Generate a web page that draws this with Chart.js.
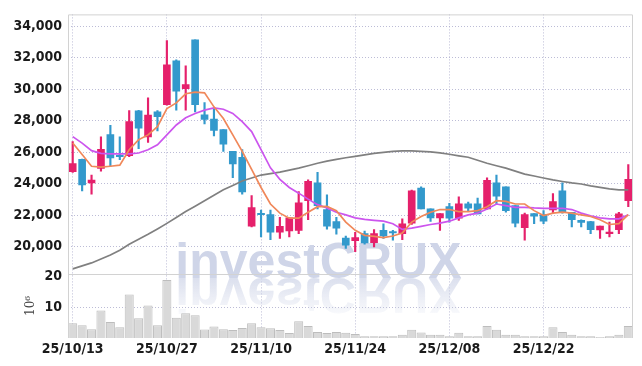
<!DOCTYPE html>
<html lang="en">
<head>
<meta charset="UTF-8">
<title>Candle chart</title>
<script src="https://cdn.jsdelivr.net/npm/chart.js"></script>
<style>
  html, body { margin: 0; padding: 0; background: #fff; }
  #wrap { width: 642px; height: 366px; position: relative; }
</style>
</head>
<body>
<div id="wrap"><canvas id="chart" width="642" height="366"></canvas></div>
<script>
// trading days (yy/mm/dd)
const dates = [
  '25/10/13','25/10/14','25/10/15','25/10/16','25/10/17','25/10/20','25/10/21','25/10/22','25/10/23','25/10/24',
  '25/10/27','25/10/28','25/10/29','25/10/30','25/10/31','25/11/03','25/11/04','25/11/05','25/11/06','25/11/07',
  '25/11/10','25/11/11','25/11/12','25/11/13','25/11/14','25/11/17','25/11/18','25/11/19','25/11/20','25/11/21',
  '25/11/24','25/11/25','25/11/26','25/11/27','25/11/28','25/12/01','25/12/02','25/12/03','25/12/04','25/12/05',
  '25/12/08','25/12/09','25/12/10','25/12/11','25/12/12','25/12/15','25/12/16','25/12/17','25/12/18','25/12/19',
  '25/12/22','25/12/23','25/12/24','25/12/26','25/12/29','25/12/30','26/01/02','26/01/05','26/01/06','26/01/07'
];

const opens = [
  24750, 25540, 24040, 24960, 27110, 25760, 25770, 28610, 26960, 28550,
  29010, 31790, 30020, 33130, 28360, 28090, 27420, 26040, 25670, 21300,
  22050, 22030, 20920, 20990, 21030, 22910, 24040, 22340, 21590, 20530,
  20380, 20820, 20250, 21030, 20900, 20820, 21490, 23720, 22390, 21820,
  22530, 21800, 22720, 22720, 22390, 24040, 23790, 22600, 21200, 22090,
  22030, 22320, 23540, 22180, 21660, 21590, 21050, 20820, 21070, 22910
];
const highs = [
  26670, 25550, 24540, 26960, 27700, 26960, 28640, 28650, 29450, 28640,
  33070, 31850, 31480, 33130, 29140, 28760, 27430, 26050, 26150, 23240,
  22320, 22320, 21860, 21830, 23490, 24230, 24710, 23290, 21860, 20670,
  20900, 20990, 21070, 21450, 21030, 21760, 23580, 23790, 22400, 22100,
  22740, 23160, 22830, 23080, 24370, 24540, 23790, 22600, 22120, 22100,
  22280, 23370, 24040, 22180, 21700, 21600, 21300, 21550, 22180, 25210
];
const lows = [
  24700, 23530, 23330, 24790, 25100, 25520, 25700, 26210, 26610, 27340,
  28970, 28660, 28660, 28550, 27780, 27030, 26040, 24370, 23330, 21250,
  20610, 20440, 20510, 20610, 20820, 21700, 22390, 21110, 20780, 19880,
  19670, 20150, 19980, 20510, 20400, 20440, 21400, 22390, 21590, 21030,
  21550, 21660, 22220, 22070, 22380, 22700, 22180, 21240, 20400, 21450,
  21450, 22120, 22120, 21240, 21240, 20820, 20510, 20610, 20820, 22530
];
const closes = [
  25270, 23910, 24220, 26170, 25630, 25700, 27930, 27510, 28340, 28240,
  31540, 29870, 30290, 29010, 28070, 27380, 26500, 25250, 23470, 22470,
  22020, 20920, 21280, 21820, 22780, 24140, 22600, 21300, 21170, 20090,
  20570, 20230, 20820, 20670, 20860, 21450, 23540, 22390, 21820, 22090,
  21800, 22720, 22430, 22070, 24200, 23200, 22280, 21490, 22030, 21930,
  21610, 22850, 22180, 21700, 21530, 21070, 21300, 20920, 22070, 24270
];

// moving averages
const maShort = [
  26570, 25840, 25100, 25040, 25100, 25170, 26150, 26780, 27090, 27610,
  28760, 29120, 29700, 29810, 29760, 28870, 28130, 27090, 26040, 24900,
  23750, 22700, 22120, 21800, 21800, 22180, 22530, 22550, 22280, 21550,
  21030, 20710, 20650, 20570, 20670, 20860, 21550, 21910, 22180, 22350,
  22350, 22220, 22220, 22280, 22530, 22910, 22870, 22700, 22700, 22280,
  21970, 22120, 22180, 22120, 22010, 21910, 21700, 21400, 21450, 22030
];
const maMid = [
  26980, 26570, 26090, 25920, 25880, 25880, 25880, 25940, 26150, 26460,
  27090, 27720, 28180, 28450, 28660, 28800, 28720, 28450, 27930, 27300,
  26150, 25000, 24270, 23750, 23390, 23010, 22660, 22450, 22180, 22010,
  21820, 21720, 21660, 21610, 21450, 21090, 21170, 21280, 21400, 21490,
  21610, 21820, 22010, 22120, 22390, 22700, 22600, 22490, 22490, 22450,
  22430, 22430, 22430, 22350, 22120, 21950, 21820, 21760, 21760, 22010
];
const maLong = [
  18580, 18770, 18960, 19210, 19460, 19770, 20150, 20460, 20780, 21120,
  21470, 21840, 22220, 22560, 22910, 23250, 23600, 23880, 24160, 24350,
  24540, 24630, 24730, 24850, 24980, 25130, 25290, 25420, 25540, 25640,
  25730, 25820, 25920, 25980, 26040, 26080, 26080, 26040, 26010, 25950,
  25860, 25760, 25670, 25480, 25290, 25130, 24980, 24790, 24600, 24480,
  24350, 24230, 24130, 24040, 23970, 23850, 23760, 23660, 23600, 23600
];

// volume, millions of shares
const volume = [
  4.8, 4.2, 2.9, 9.0, 5.2, 3.5, 14.2, 6.5, 10.6, 4.2,
  19.0, 6.6, 8.1, 7.4, 2.8, 3.8, 2.9, 2.6, 3.3, 4.8,
  3.5, 3.2, 2.6, 1.6, 5.5, 3.9, 2.0, 1.6, 2.0, 1.7,
  1.3, 0.6, 0.6, 0.6, 0.6, 1.1, 2.7, 1.8, 1.1, 1.1,
  0.6, 1.7, 0.6, 0.6, 3.9, 2.7, 1.1, 1.1, 0.6, 0.6,
  0.6, 3.5, 2.0, 1.1, 0.6, 0.6, 0.3, 0.6, 1.1, 3.9
];

const priceTicks = [20000, 22000, 24000, 26000, 28000, 30000, 32000, 34000];
const volTicks = [10, 20];

const UP = '#e5206b';
const DOWN = '#3399cc';
const GRID = 'rgba(165,165,200,0.75)';
const LABEL_FONT = { family: '"Liberation Sans Narrow", "DejaVu Sans Condensed", sans-serif', size: 14, weight: 'bold' };

const candleColor = opens.map((o, i) => closes[i] >= o ? UP : DOWN);

const decorPlugin = {
  id: 'decor',
  beforeDatasetsDraw(chart) {
    const { ctx, chartArea: a } = chart;
    const baseY = chart.scales.price.bottom + 4;
    const x = a.left + (a.right - a.left) * 0.19;
    ctx.save();
    ctx.font = 'bold 50px "Liberation Sans", Arial, sans-serif';
    ctx.textBaseline = 'alphabetic';
    ctx.fillStyle = '#cfd5e8';
    ctx.fillText('investCRUX', x, baseY);
    // mirrored reflection
    ctx.translate(0, 2 * baseY);
    ctx.scale(1, -1);
    const g = ctx.createLinearGradient(0, baseY, 0, baseY - 44);
    g.addColorStop(0, 'rgba(207,213,232,0.75)');
    g.addColorStop(1, 'rgba(207,213,232,0)');
    ctx.fillStyle = g;
    ctx.fillText('investCRUX', x, baseY);
    ctx.restore();
  },
  afterDatasetsDraw(chart) {
    const { ctx, chartArea: a } = chart;
    const sep = chart.scales.price.bottom;
    ctx.save();
    ctx.strokeStyle = '#d2d2d2';
    ctx.lineWidth = 1;
    ctx.beginPath();
    ctx.moveTo(a.left + 0.5, a.bottom);
    ctx.lineTo(a.left + 0.5, a.top + 0.5);
    ctx.lineTo(a.right - 0.5, a.top + 0.5);
    ctx.lineTo(a.right - 0.5, a.bottom);
    ctx.moveTo(a.left, Math.round(sep) + 0.5);
    ctx.lineTo(a.right, Math.round(sep) + 0.5);
    ctx.stroke();
    ctx.restore();
  }
};

new Chart(document.getElementById('chart'), {
  type: 'bar',
  data: {
    labels: dates,
    datasets: [
      { type: 'line', data: maShort, yAxisID: 'price', borderColor: '#f0885a', borderWidth: 1.7, pointRadius: 0, order: 0 },
      { type: 'line', data: maMid, yAxisID: 'price', borderColor: '#cc55ee', borderWidth: 1.7, pointRadius: 0, order: 0 },
      { type: 'line', data: maLong, yAxisID: 'price', borderColor: '#808080', borderWidth: 1.7, pointRadius: 0, order: 0 },
      { data: opens.map((o, i) => [o, closes[i]]), yAxisID: 'price', backgroundColor: candleColor,
        barThickness: 7, minBarLength: 1.5, grouped: false, order: 1 },
      { data: lows.map((l, i) => [l, highs[i]]), yAxisID: 'price', backgroundColor: candleColor,
        barThickness: 1.5, grouped: false, order: 2 },
      { data: volume, yAxisID: 'vol', backgroundColor: '#d9d9d9', borderColor: '#bdbdbd', borderWidth: 1,
        categoryPercentage: 1, barPercentage: 0.96, grouped: false, order: 3 }
    ]
  },
  options: {
    responsive: false,
    animation: false,
    events: [],
    layout: { padding: { top: 9, right: 9, left: 0, bottom: 6 } },
    plugins: { legend: { display: false }, tooltip: { enabled: false } },
    scales: {
      x: {
        offset: true,
        grid: {
          offset: false,
          drawTicks: false,
          color: ctx => ctx.index % 10 === 0 ? GRID : 'rgba(0,0,0,0)'
        },
        border: { display: false, dash: [1, 2] },
        ticks: {
          autoSkip: false, maxRotation: 0, minRotation: 0, padding: 4,
          color: '#1a1a1a', font: { ...LABEL_FONT, lineHeight: 1 },
          callback: (v, i) => i % 10 === 0 ? dates[i] : ''
        }
      },
      vol: {
        type: 'linear', position: 'left', stack: 'panes', stackWeight: 1,
        min: 0, max: 21,
        afterBuildTicks: s => { s.ticks = volTicks.map(v => ({ value: v })); },
        afterFit: s => { s.width = 68; },
        grid: { drawTicks: false, color: ctx => ctx.tick && ctx.tick.value === 10 ? GRID : 'rgba(0,0,0,0)' },
        border: { display: false, dash: [1, 2] },
        ticks: { autoSkip: false, padding: 6, color: '#1a1a1a', font: LABEL_FONT, callback: v => String(v) },
        title: { display: true, text: '10⁶', color: '#444', font: { family: '"DejaVu Serif", serif', size: 12 }, padding: { top: 24, bottom: 0 } }
      },
      price: {
        type: 'linear', position: 'left', stack: 'panes', stackWeight: 4.04,
        min: 18270, max: 34740,
        afterBuildTicks: s => { s.ticks = priceTicks.map(v => ({ value: v })); },
        afterFit: s => { s.width = 68; },
        grid: { drawTicks: false, color: GRID },
        border: { display: false, dash: [1, 2] },
        ticks: { autoSkip: false, padding: 6, color: '#1a1a1a', font: LABEL_FONT, callback: v => v.toLocaleString('en-US') }
      }
    }
  },
  plugins: [decorPlugin]
});
</script>
</body>
</html>
